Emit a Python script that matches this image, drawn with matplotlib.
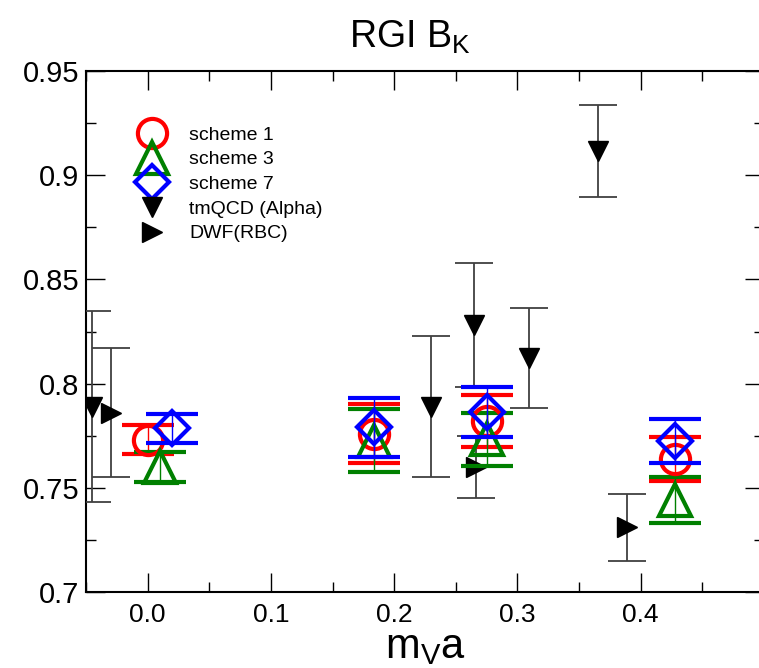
import matplotlib
matplotlib.use("Agg")
import matplotlib.pyplot as plt
from matplotlib.lines import Line2D
from matplotlib.ticker import MultipleLocator, FormatStrFormatter

plt.rcParams['font.family'] = ['Liberation Sans', 'DejaVu Sans']

# scheme data (m_V a, B_K, error)
s1_x = [0.0, 0.184, 0.275, 0.428]
s1_y = [0.773, 0.776, 0.782, 0.764]
s1_e = [0.007, 0.014, 0.0125, 0.0105]

s3_x = [0.01, 0.184, 0.275, 0.428]
s3_y = [0.760, 0.7726, 0.7733, 0.744]
s3_e = [0.007, 0.015, 0.0127, 0.011]

s7_x = [0.02, 0.184, 0.275, 0.428]
s7_y = [0.7786, 0.779, 0.7866, 0.7725]
s7_e = [0.007, 0.014, 0.012, 0.0105]

tm_x = [-0.045, 0.23, 0.265, 0.309, 0.365]
tm_y = [0.789, 0.789, 0.828, 0.8125, 0.9115]
tm_e = [0.046, 0.034, 0.0297, 0.024, 0.022]

dwf_x = [-0.03, 0.266, 0.389]
dwf_y = [0.786, 0.760, 0.731]
dwf_e = [0.031, 0.015, 0.016]

labels = ['scheme 1', 'scheme 3', 'scheme 7', 'tmQCD (Alpha)', 'DWF(RBC)']

fig = plt.figure(figsize=(7.59, 6.68), dpi=100)
# right spine sits just off the canvas, as in the original
ax = fig.add_axes([86/759, 76/668, 678/759, 521/668])

# black points first (thin grey bars)
ax.errorbar(tm_x, tm_y, yerr=tm_e, fmt='v', color='black', ms=14,
            ecolor='#404040', elinewidth=1.3, capsize=13.7, capthick=1.3, zorder=3)
ax.errorbar(dwf_x, dwf_y, yerr=dwf_e, fmt='>', color='black', ms=14,
            ecolor='#404040', elinewidth=1.3, capsize=13.7, capthick=1.3, zorder=3)

ax.errorbar(s1_x, s1_y, yerr=s1_e, fmt='o', mfc='none', mec='red', mew=3,
            ms=21, ecolor='red', elinewidth=1, capsize=18.7, capthick=3, zorder=4)
ax.errorbar(s3_x, s3_y, yerr=s3_e, fmt='^', mfc='none', mec='green', mew=3,
            ms=23, ecolor='green', elinewidth=1, capsize=18.7, capthick=3, zorder=4)
ax.errorbar(s7_x, s7_y, yerr=s7_e, fmt='D', mfc='none', mec='blue', mew=3,
            ms=17, ecolor='blue', elinewidth=1, capsize=18.7, capthick=3, zorder=5)

ax.set_xlim(-0.05, 0.5)
ax.set_ylim(0.7, 0.95)
ax.xaxis.set_minor_locator(MultipleLocator(0.05))
ax.yaxis.set_minor_locator(MultipleLocator(0.025))
ax.set_xticks([0.0, 0.1, 0.2, 0.3, 0.4])
ax.xaxis.set_major_formatter(FormatStrFormatter('%.1f'))
ax.set_yticks([0.7, 0.75, 0.8, 0.85, 0.9, 0.95])
ax.set_yticklabels(['0.7', '0.75', '0.8', '0.85', '0.9', '0.95'])

ax.tick_params(which='both', direction='in', top=True, right=True)
ax.tick_params(which='major', length=14, width=1)
ax.tick_params(which='minor', length=7, width=1)
ax.tick_params(axis='y', labelsize=21, pad=5)
ax.tick_params(axis='x', labelsize=19, pad=8)
for sp in ax.spines.values():
    sp.set_linewidth(1.5)

ax.set_xlabel(r'm$_\mathregular{V}$a', fontsize=30, labelpad=0)
fig.text(0.54, 0.944, r'RGI B$_\mathregular{K}$', fontsize=27, ha='center', va='center')

handles = [
    Line2D([], [], ls='none', marker='o', mfc='none', mec='red', mew=3, ms=21),
    Line2D([], [], ls='none', marker='^', mfc='none', mec='green', mew=3, ms=23),
    Line2D([], [], ls='none', marker='D', mfc='none', mec='blue', mew=3, ms=17),
    Line2D([], [], ls='none', marker='v', color='black', ms=14),
    Line2D([], [], ls='none', marker='>', color='black', ms=14),
]
ax.legend(handles, labels, loc='upper left', bbox_to_anchor=(133/759, 0.811),
          bbox_transform=fig.transFigure, frameon=False, fontsize=14,
          labelspacing=0.36, handletextpad=0.9, borderaxespad=0, borderpad=0)

fig.savefig('out.png', dpi=100)
